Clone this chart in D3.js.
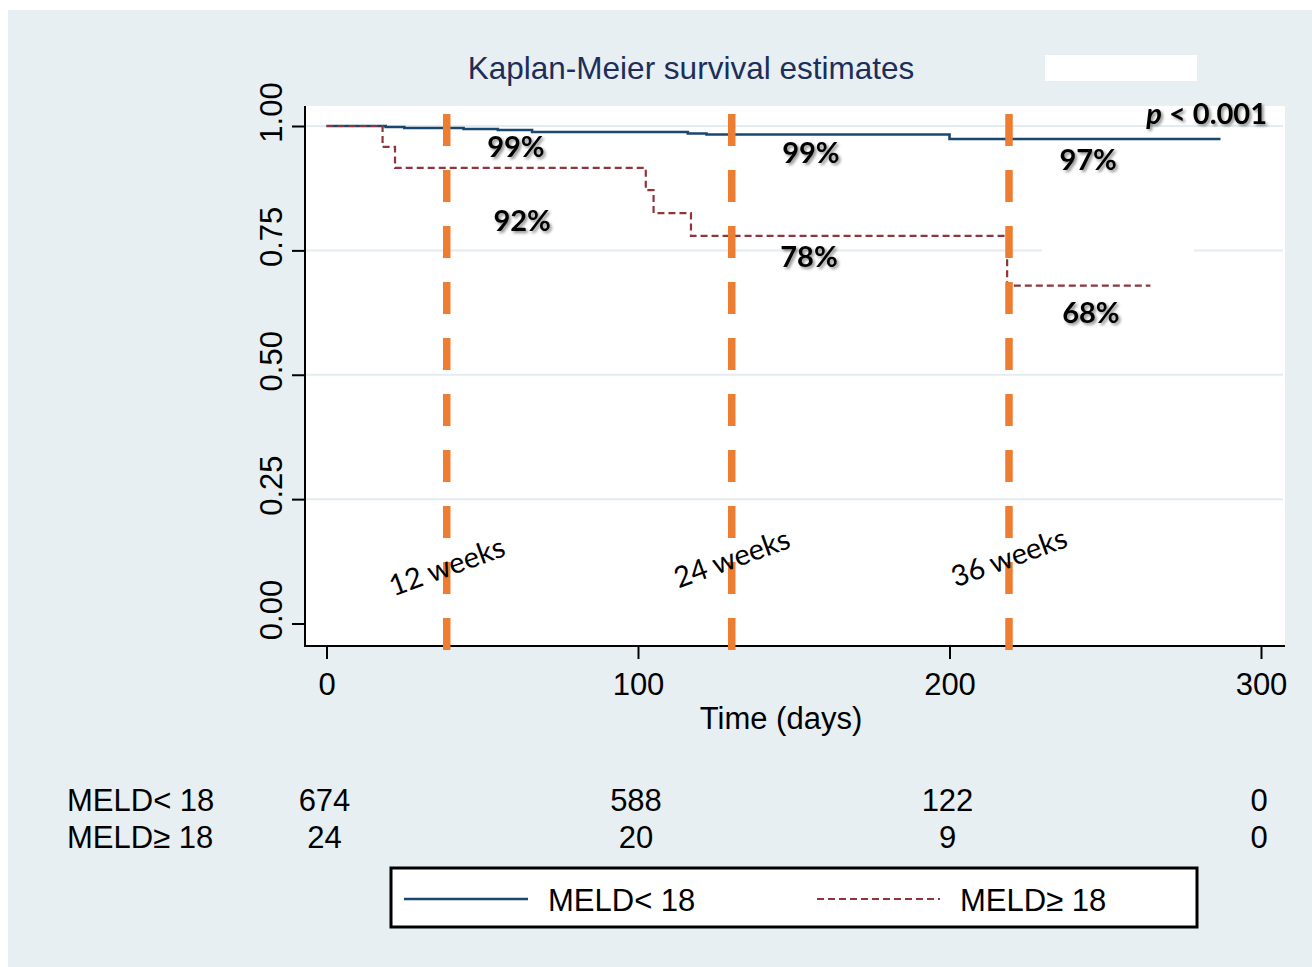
<!DOCTYPE html>
<html>
<head>
<meta charset="utf-8">
<script src="https://cdn.jsdelivr.net/npm/d3@7"></script>
<style>
  body { margin: 0; background: #fff; }
  svg text { font-family: "Liberation Sans", Arial, sans-serif; }
</style>
</head>
<body>
<div id="chart"></div>
<script>
// survival data
var xTicks = [0, 100, 200, 300];
var yTicks = [0, 0.25, 0.5, 0.75, 1];

var lowTime = [0, 19, 25, 44, 55, 66, 116, 122, 200, 287];
var lowSurv = [1.0, 0.998, 0.996, 0.994, 0.992, 0.988, 0.985, 0.983, 0.974, 0.974];
var highTime = [0, 18, 22, 102.5, 105, 117, 218.5, 264.5];
var highSurv = [1.0, 0.958, 0.916, 0.871, 0.825, 0.779, 0.679, 0.679];

var weekLabels = ["12 weeks", "24 weeks", "36 weeks"];
var weekDays = [38.6, 130.1, 219.1];
var weekLabelSurv = [0.115, 0.131, 0.133];

var pctLabels = ["99%", "99%", "97%", "92%", "78%", "68%"];
var pctDays = [60.8, 155.5, 244.5, 62.8, 154.9, 245.4];
var pctSurv = [0.938, 0.926, 0.912, 0.789, 0.717, 0.604];

var groups = ["MELD< 18", "MELD\u2265 18"];
var riskLow = [674, 588, 122, 0];
var riskHigh = [24, 20, 9, 0];

var W = 1312, H = 967;
var svg = d3.select("#chart").append("svg")
    .attr("width", W)
    .attr("height", H);

var defs = svg.append("defs");
var f = defs.append("filter").attr("id", "shadow")
    .attr("x", "-20%").attr("y", "-20%").attr("width", "150%").attr("height", "150%");
f.append("feDropShadow").attr("dx", 2).attr("dy", 2).attr("stdDeviation", 1.6)
    .attr("flood-color", "#000").attr("flood-opacity", 0.45);

// graph region
svg.append("rect").attr("x", 8).attr("y", 10).attr("width", W - 8).attr("height", H - 10)
    .attr("fill", "#e8eff2");

// plot region
var px0 = 305, px1 = 1285, py0 = 106, py1 = 646;
svg.append("rect").attr("x", px0).attr("y", py0).attr("width", px1 - px0).attr("height", py1 - py0)
    .attr("fill", "#fff");

var x = d3.scaleLinear().domain([0, 300]).range([326.5, 1261]);
var y = d3.scaleLinear().domain([0, 1]).range([623.5, 126]);

// gridlines
svg.append("g").selectAll("line").data(yTicks.filter(function (d) { return d > 0; }))
    .enter().append("line")
    .attr("x1", px0).attr("x2", px1 - 2)
    .attr("y1", function (d) { return y(d); }).attr("y2", function (d) { return y(d); })
    .attr("stroke", "#e4ecef").attr("stroke-width", 2);

// white patch over gridline (as in source)
svg.append("rect").attr("x", 1042).attr("y", 247).attr("width", 152).attr("height", 8).attr("fill", "#fff");

// axes
var yAxis = svg.append("g").attr("transform", "translate(" + px0 + ",0)")
    .call(d3.axisLeft(y).tickValues(yTicks).tickSize(13).tickPadding(10).tickFormat(d3.format(".2f")));
yAxis.select(".domain").remove();
yAxis.selectAll(".tick line").attr("stroke", "#000").attr("stroke-width", 2);
yAxis.selectAll(".tick text")
    .attr("font-size", 31).attr("fill", "#000")
    .attr("text-anchor", "middle")
    .attr("x", 0).attr("dy", 0)
    .attr("transform", "translate(-23,-14) rotate(-90)")
    .attr("y", 0);

var xAxis = svg.append("g").attr("transform", "translate(0," + py1 + ")")
    .call(d3.axisBottom(x).tickValues(xTicks).tickSize(13).tickPadding(14).tickFormat(d3.format("d")));
xAxis.select(".domain").remove();
xAxis.selectAll(".tick line").attr("stroke", "#000").attr("stroke-width", 2);
xAxis.selectAll(".tick text").attr("font-size", 31).attr("fill", "#000");

svg.append("line").attr("x1", px0).attr("x2", px0).attr("y1", py0).attr("y2", py1 + 1)
    .attr("stroke", "#000").attr("stroke-width", 2);
svg.append("line").attr("x1", px0 - 1).attr("x2", px1).attr("y1", py1).attr("y2", py1)
    .attr("stroke", "#000").attr("stroke-width", 2);

svg.append("text").attr("x", 781).attr("y", 729).attr("text-anchor", "middle")
    .attr("font-size", 31).attr("fill", "#000").text("Time (days)");

// title
svg.append("text").attr("x", 691).attr("y", 79).attr("text-anchor", "middle")
    .attr("font-size", 31.5).attr("fill", "#1c2e5a").text("Kaplan-Meier survival estimates");
svg.append("rect").attr("x", 1045).attr("y", 55).attr("width", 152).attr("height", 26).attr("fill", "#fff");

// step curves
var step = d3.line().curve(d3.curveStepAfter)
    .x(function (d) { return x(d[0]); })
    .y(function (d) { return y(d[1]); });

var lowPts = d3.zip(lowTime, lowSurv);
var highPts = d3.zip(highTime, highSurv);

svg.append("path").attr("d", step(lowPts)).attr("fill", "none")
    .attr("stroke", "#1a476f").attr("stroke-width", 2.6);
svg.append("path").attr("d", step(highPts)).attr("fill", "none")
    .attr("stroke", "#90353b").attr("stroke-width", 2.2).attr("stroke-dasharray", "7,4");

// week markers
svg.append("g").selectAll("line").data(weekDays).enter().append("line")
    .attr("x1", function (d) { return x(d); }).attr("x2", function (d) { return x(d); })
    .attr("y1", 114).attr("y2", 650)
    .attr("stroke", "#ed7d31").attr("stroke-width", 7.5).attr("stroke-dasharray", "32,24");

svg.append("g").selectAll("text").data(weekLabels).enter().append("text")
    .attr("transform", function (d, i) {
        return "translate(" + x(weekDays[i]) + "," + y(weekLabelSurv[i]) + ") rotate(-20)";
    })
    .attr("text-anchor", "middle").attr("dy", "0.35em")
    .style("font-family", "Lato, 'Open Sans', sans-serif")
    .attr("font-size", 29).attr("fill", "#000")
    .text(function (d) { return d; });

// percentage labels
svg.append("g").selectAll("text").data(pctLabels).enter().append("text")
    .attr("x", function (d, i) { return x(pctDays[i]); })
    .attr("y", function (d, i) { return y(pctSurv[i]); })
    .attr("text-anchor", "middle")
    .style("font-family", "Lato, 'Open Sans', sans-serif")
    .attr("font-weight", "bold").attr("font-size", 29).attr("fill", "#000")
    .attr("filter", "url(#shadow)")
    .text(function (d) { return d; });

var pt = svg.append("text").attr("x", 1267).attr("y", 124).attr("text-anchor", "end")
    .style("font-family", "Lato, 'Open Sans', sans-serif")
    .attr("font-weight", "bold").attr("font-size", 29).attr("fill", "#000")
    .attr("filter", "url(#shadow)");
pt.append("tspan").attr("font-style", "italic").text("p");
pt.append("tspan").text(" < 0.001");

// number at risk
var rows = [riskLow, riskHigh];
rows.forEach(function (r, i) {
    var ry = 811 + i * 37;
    svg.append("text").attr("x", 67).attr("y", ry).attr("font-size", 31).attr("fill", "#000").text(groups[i]);
    svg.append("g").selectAll("text").data(r).enter().append("text")
        .attr("x", function (d, j) { return x(xTicks[j]) - 2; })
        .attr("y", ry).attr("text-anchor", "middle")
        .attr("font-size", 31).attr("fill", "#000")
        .text(function (d) { return d; });
});

// legend
var lg = svg.append("g");
lg.append("rect").attr("x", 391).attr("y", 868).attr("width", 806).attr("height", 59)
    .attr("fill", "#fff").attr("stroke", "#000").attr("stroke-width", 3);
lg.append("line").attr("x1", 404).attr("x2", 528).attr("y1", 899).attr("y2", 899)
    .attr("stroke", "#1a476f").attr("stroke-width", 2.6);
lg.append("text").attr("x", 548).attr("y", 911).attr("font-size", 31).attr("fill", "#000").text(groups[0]);
lg.append("line").attr("x1", 817).attr("x2", 940).attr("y1", 899).attr("y2", 899)
    .attr("stroke", "#90353b").attr("stroke-width", 2.2).attr("stroke-dasharray", "7,4");
lg.append("text").attr("x", 960).attr("y", 911).attr("font-size", 31).attr("fill", "#000").text(groups[1]);
</script>
</body>
</html>
